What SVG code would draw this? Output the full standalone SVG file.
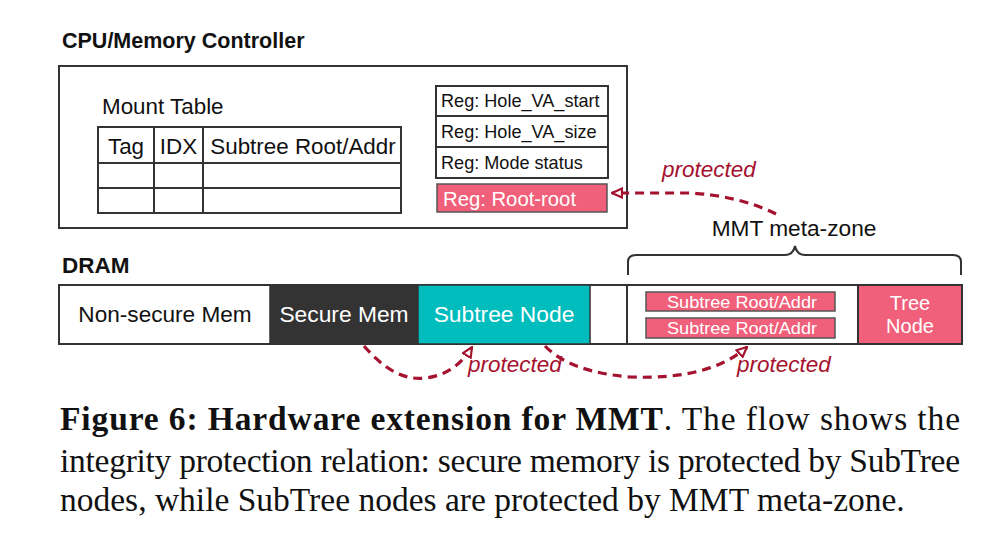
<svg xmlns="http://www.w3.org/2000/svg" width="990" height="543" viewBox="0 0 990 543">
<defs>
<style>
.sans{font-family:"Liberation Sans",Arial,sans-serif;}
.serif{font-family:"Liberation Serif","Times New Roman",serif;}
.box{fill:#fff;stroke:#333;stroke-width:2;}
.pink{fill:#f0607a;stroke:#555;stroke-width:1.5;}
.conn{fill:none;stroke:#a5122f;stroke-width:3.2;stroke-dasharray:9,6;}
.prot{font-family:"Liberation Sans",Arial,sans-serif;font-style:italic;font-size:22.5px;fill:#a5122f;}
</style>
<marker id="arr" viewBox="0 0 12 12" refX="11" refY="6" markerWidth="12" markerHeight="12" markerUnits="userSpaceOnUse" orient="auto">
<path d="M1,1.5 L11,6 L1,10.5 Z" fill="#fff" stroke="#a5122f" stroke-width="2.2"/>
</marker>
</defs>
<rect width="990" height="543" fill="#fff"/>

<text class="sans" x="62" y="48" font-size="21.5" font-weight="bold" fill="#111">CPU/Memory Controller</text>

<g id="cpu">
<rect class="box" x="59" y="66" width="568" height="162"/>
</g>

<g id="mount-table">
<text class="sans" x="102" y="114" font-size="22.4" fill="#111">Mount Table</text>
<rect class="box" x="98" y="127" width="303" height="86"/>
<line x1="98" y1="163" x2="401" y2="163" stroke="#333" stroke-width="2"/>
<line x1="98" y1="188" x2="401" y2="188" stroke="#333" stroke-width="2"/>
<line x1="154" y1="127" x2="154" y2="213" stroke="#333" stroke-width="2"/>
<line x1="203" y1="127" x2="203" y2="213" stroke="#333" stroke-width="2"/>
<text class="sans" x="126" y="154" font-size="22.4" fill="#111" text-anchor="middle">Tag</text>
<text class="sans" x="178.5" y="154" font-size="22.4" fill="#111" text-anchor="middle">IDX</text>
<text class="sans" x="303" y="154" font-size="22.4" fill="#111" text-anchor="middle">Subtree Root/Addr</text>
</g>

<g id="registers">
<rect class="box" x="436" y="86" width="172" height="92"/>
<line x1="436" y1="116" x2="608" y2="116" stroke="#333" stroke-width="2"/>
<line x1="436" y1="147" x2="608" y2="147" stroke="#333" stroke-width="2"/>
<text class="sans" x="441" y="107" font-size="18.1" fill="#111">Reg: Hole_VA_start</text>
<text class="sans" x="441" y="138" font-size="18.1" fill="#111">Reg: Hole_VA_size</text>
<text class="sans" x="441" y="169" font-size="18.1" fill="#111">Reg: Mode status</text>
</g>

<g id="root-root">
<rect class="pink" x="437" y="184" width="170" height="28"/>
<text class="sans" x="443" y="206" font-size="20.3" fill="#fff">Reg: Root-root</text>
</g>

<g id="meta-label">
<text class="sans" x="794" y="236" font-size="22.7" fill="#111" text-anchor="middle">MMT meta-zone</text>
<path d="M628,275 L628,262 Q628,255 636,255 L785,255 Q793,255 795,246 Q797,255 805,255 L953,255 Q961,255 961,262 L961,275" fill="none" stroke="#333" stroke-width="2"/>
</g>

<text class="sans" x="62" y="273" font-size="22.5" font-weight="bold" fill="#111">DRAM</text>

<g id="dram">
<rect x="59" y="285" width="903" height="59" fill="#fff" stroke="#333" stroke-width="2"/>
<rect x="270" y="285" width="148" height="59" fill="#333" stroke="#333" stroke-width="1.5"/>
<rect x="418" y="285" width="172" height="59" fill="#00bdbd" stroke="#333" stroke-width="1.5"/>
<rect x="627" y="285" width="231" height="59" fill="#fff" stroke="#333" stroke-width="2"/>
<rect x="858" y="285" width="104" height="59" fill="#f0607a" stroke="#333" stroke-width="2"/>
<text class="sans" x="165" y="322" font-size="22.6" fill="#111" text-anchor="middle">Non-secure Mem</text>
<text class="sans" x="344" y="322" font-size="22.8" fill="#fff" text-anchor="middle">Secure Mem</text>
<text class="sans" x="504" y="322" font-size="22.8" fill="#fff" text-anchor="middle">Subtree Node</text>
<text class="sans" x="910" y="310" font-size="20" fill="#fff" text-anchor="middle">Tree</text>
<text class="sans" x="910" y="333" font-size="20" fill="#fff" text-anchor="middle">Node</text>
</g>

<g id="subtree-entries">
<rect class="pink" x="646" y="292" width="189" height="19"/>
<rect class="pink" x="646" y="318" width="189" height="20"/>
<text class="sans" x="667" y="308" font-size="17" fill="#fff" textLength="150" lengthAdjust="spacingAndGlyphs">Subtree Root/Addr</text>
<text class="sans" x="667" y="334" font-size="17" fill="#fff" textLength="150" lengthAdjust="spacingAndGlyphs">Subtree Root/Addr</text>
</g>

<g id="connectors">
<path class="conn" d="M776,214 Q740,196 690,193 L612,193" marker-end="url(#arr)"/>
<path class="conn" d="M364,346 Q395,382 425,378 Q455,375 472,347" marker-end="url(#arr)"/>
<path class="conn" d="M545,346 Q570,372 630,377 Q710,380 747,347" marker-end="url(#arr)"/>
</g>

<text class="prot" x="662" y="177">protected</text>
<text class="prot" x="468" y="372">protected</text>
<text class="prot" x="737" y="372">protected</text>

<g id="caption" class="serif" font-size="33.5" fill="#111">
<text x="60" y="430" textLength="900" lengthAdjust="spacing"><tspan font-weight="bold">Figure 6: Hardware extension for MMT</tspan>. The flow shows the</text>
<text x="60" y="472" textLength="900" lengthAdjust="spacing">integrity protection relation: secure memory is protected by SubTree</text>
<text x="60" y="511">nodes, while SubTree nodes are protected by MMT meta-zone.</text>
</g>
</svg>
